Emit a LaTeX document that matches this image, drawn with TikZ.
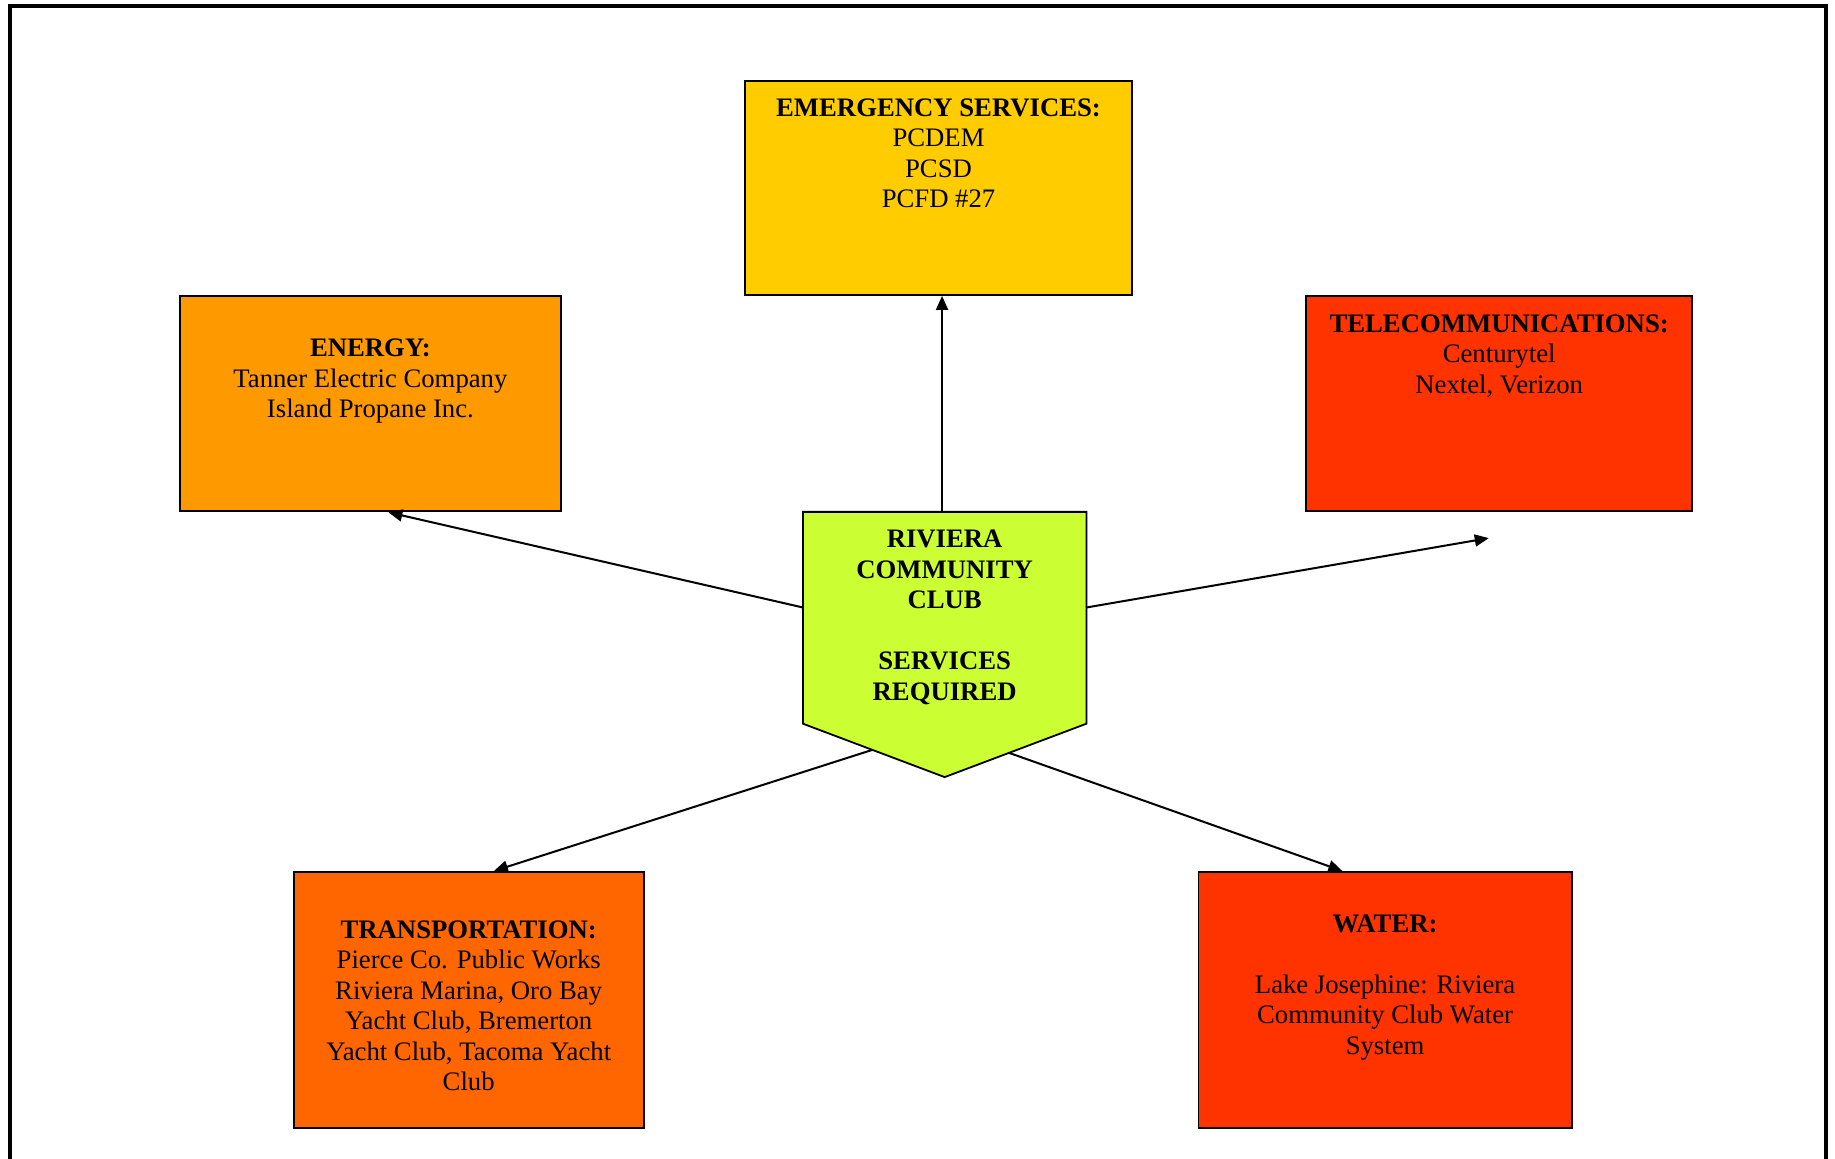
\documentclass[tikz,border=0pt]{standalone}
\usepackage{fontspec}
\setmainfont{Liberation Serif}
\usetikzlibrary{arrows.meta,calc}
\definecolor{cemerg}{HTML}{FFCC00}
\definecolor{cenergy}{HTML}{FF9900}
\definecolor{ctele}{HTML}{FF3300}
\definecolor{ctrans}{HTML}{FF6600}
\definecolor{cwater}{HTML}{FF3300}
\definecolor{chub}{HTML}{CCFF33}
\tikzset{
  boxnode/.style={draw=black, line width=0.9pt, inner sep=0pt, rectangle},
  txt/.style={anchor=north, inner sep=0pt, align=center, font=\fontsize{13.35pt}{15.25pt}\selectfont},
  conn/.style={line width=1pt, -{Triangle[length=7pt,width=6pt]}},
}
\begin{document}
\begin{tikzpicture}[x=0.5pt,y=-0.5pt]
\useasboundingbox (0,0) rectangle (1835,1159);
\clip (0,0) rectangle (1835,1159);
% outer frame
\draw[line width=2pt] (10,6) rectangle (1826,1200);

% boxes
\node[boxnode, fill=cemerg, minimum width=193.5pt, minimum height=107pt] (emerg) at (938.5,188) {};
\node[boxnode, fill=cenergy, minimum width=190.2pt, minimum height=107.65pt] (energy) at (370.4,403.75) {};
\node[boxnode, fill=ctele, minimum width=193.15pt, minimum height=107.7pt] (tele) at (1499.15,403.7) {};
\node[boxnode, fill=ctrans, minimum width=175pt, minimum height=128.15pt] (trans) at (468.7,1000.05) {};
\node[boxnode, fill=cwater, minimum width=186.65pt, minimum height=128.15pt] (water) at (1385.05,1000.05) {};

% hub (chevron)
\node[inner sep=0pt, minimum width=141.35pt, minimum height=132.2pt] (hub) at (944.65,644.5) {};
\coordinate (hubL) at ([yshift=26.7pt]hub.south west);
\coordinate (hubR) at ([yshift=26.7pt]hub.south east);
\draw[line width=0.9pt, fill=chub] (hub.north west) -- (hub.north east) -- (hubR) -- (hub.south) -- (hubL) -- cycle;

% texts
\node[txt] (emergT) at (938.5,98) {\textbf{EMERGENCY SERVICES:}\\PCDEM\\PCSD\\PCFD \#27};
\node[txt] (energyT) at (370.4,338.5) {\textbf{ENERGY:}\\Tanner Electric Company\\Island Propane Inc.};
\node[txt] (teleT) at (1499.15,314) {\textbf{TELECOMMUNICATIONS:}\\Centurytel\\Nextel, Verizon};
\node[txt] (transT) at (468.7,920) {\textbf{TRANSPORTATION:}\\Pierce Co. Public Works\\Riviera Marina, Oro Bay\\Yacht Club, Bremerton\\Yacht Club, Tacoma Yacht\\Club};
\node[txt] (waterT) at (1385.05,914) {\textbf{WATER:}\\[15.25pt]Lake Josephine: Riviera\\Community Club Water\\System};
\node[txt, font=\fontsize{13.35pt}{15.25pt}\selectfont\bfseries] (hubT) at (944.65,529.5) {RIVIERA\\COMMUNITY\\CLUB\\[15.25pt]SERVICES\\REQUIRED};

% connectors
\coordinate (teltip) at ([xshift=-5.2pt,yshift=-12.9pt]tele.south);
\draw[conn] ([xshift=-1.3pt]hub.north) -- ([xshift=-1.3pt]hub.north |- emerg.south);
\draw[conn] ([yshift=18.5pt]hub.west) -- ([xshift=9pt]energy.south);
\draw[conn] ([yshift=18.5pt]hub.east) -- (teltip);
\draw[conn] ($(hubL)!0.49!(hub.south)$) -- ([xshift=12.6pt]trans.north);
\draw[conn] ($(hub.south)!0.454!(hubR)$) -- ([xshift=-21.35pt]water.north);
\end{tikzpicture}
\end{document}
